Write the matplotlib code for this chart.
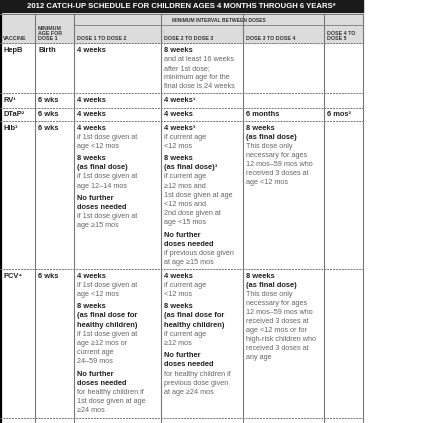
import matplotlib.pyplot as plt
import matplotlib.patches as patches

plt.rcParams['font.family'] = ['Liberation Sans Narrow', 'Liberation Sans', 'DejaVu Sans']

title = "2012 CATCH-UP SCHEDULE FOR CHILDREN AGES 4 MONTHS THROUGH 6 YEARS*"
col_x = [0, 35, 74, 161, 243, 324, 363]
row_y = [43, 93, 108, 121, 269, 418]
headers = ["VACCINE", "MINIMUM\nAGE FOR\nDOSE 1", "DOSE 1 TO DOSE 2",
           "DOSE 2 TO DOSE 3", "DOSE 3 TO DOSE 4", "DOSE 4 TO\nDOSE 5"]

# each cell: list of blocks (bold, lines)
B, N = True, False
cells = [
    [[(B, ["HepB"])], [(B, ["Birth"])], [(B, ["4 weeks"])],
     [(B, ["8 weeks"]), (N, ["and at least 16 weeks", "after 1st dose;",
                             "minimum age for the", "final dose is 24 weeks"])], [], []],
    [[(B, ["RV¹"])], [(B, ["6 wks"])], [(B, ["4 weeks"])], [(B, ["4 weeks¹"])], [], []],
    [[(B, ["DTaP²"])], [(B, ["6 wks"])], [(B, ["4 weeks"])], [(B, ["4 weeks"])],
     [(B, ["6 months"])], [(B, ["6 mos²"])]],
    [[(B, ["Hib³"])], [(B, ["6 wks"])],
     [(B, ["4 weeks"]), (N, ["if 1st dose given at", "age <12 mos"]), None,
      (B, ["8 weeks", "(as final dose)"]), (N, ["if 1st dose given at", "age 12–14 mos"]), None,
      (B, ["No further", "doses needed"]), (N, ["if 1st dose given at", "age ≥15 mos"])],
     [(B, ["4 weeks³"]), (N, ["if current age", "<12 mos"]), None,
      (B, ["8 weeks", "(as final dose)³"]),
      (N, ["if current age", "≥12 mos and", "1st dose given at age", "<12 mos and",
           "2nd dose given at", "age <15 mos"]), None,
      (B, ["No further", "doses needed"]), (N, ["if previous dose given", "at age ≥15 mos"])],
     [(B, ["8 weeks", "(as final dose)"]),
      (N, ["This dose only", "necessary for ages", "12 mos–59 mos who",
           "received 3 doses at", "age <12 mos"])], []],
    [[(B, ["PCV⁴"])], [(B, ["6 wks"])],
     [(B, ["4 weeks"]), (N, ["if 1st dose given at", "age <12 mos"]), None,
      (B, ["8 weeks", "(as final dose for", "healthy children)"]),
      (N, ["if 1st dose given at", "age ≥12 mos or", "current age", "24–59 mos"]), None,
      (B, ["No further", "doses needed"]),
      (N, ["for healthy children if", "1st dose given at age", "≥24 mos"])],
     [(B, ["4 weeks"]), (N, ["if current age", "<12 mos"]), None,
      (B, ["8 weeks", "(as final dose for", "healthy children)"]),
      (N, ["if current age", "≥12 mos"]), None,
      (B, ["No further", "doses needed"]),
      (N, ["for healthy children if", "previous dose given", "at age ≥24 mos"])],
     [(B, ["8 weeks", "(as final dose)"]),
      (N, ["This dose only", "necessary for ages", "12 mos–59 mos who",
           "received 3 doses at", "age <12 mos or for", "high-risk children who",
           "received 3 doses at", "any age"])], []],
]

fig = plt.figure(figsize=(4.36, 4.23), dpi=100)
ax = fig.add_axes([0, 0, 1, 1])
ax.set_xlim(0, 436)
ax.set_ylim(423, 0)
ax.axis("off")

# title bar
ax.add_patch(patches.Rectangle((0, 0), 363, 12, color="#1a1a1a"))
ax.text(181, 6.5, title, color="white", fontsize=5.6, fontweight="bold",
        ha="center", va="center")
# header
ax.add_patch(patches.Rectangle((0, 14), 363, 29, color="#dcdcdc"))
ax.text((col_x[2] + col_x[6]) / 2, 20, "MINIMUM INTERVAL BETWEEN DOSES",
        fontsize=3.6, fontweight="bold", color="#333", ha="center", va="center")
ax.plot([col_x[2], col_x[6]], [25.5, 25.5], color="#888", lw=0.7)
for i, h in enumerate(headers):
    ax.text(col_x[i] + 3, 41, h, fontsize=3.8, fontweight="bold", color="#333",
            ha="left", va="bottom", linespacing=0.95)

# grid lines
ax.plot([0.8, 0.8], [14, 423], color="black", lw=1.6)
for x in col_x[1:]:
    ax.plot([x, x], [14, 423], color="#777", lw=0.8)
for y in row_y:
    ax.plot([0, 363], [y, y], color="#777", lw=0.7, ls=(0, (2, 1)))
ax.plot([0, 363], [14, 14], color="#777", lw=0.7)

# cell text
line_h = 9.1
for r, row in enumerate(cells):
    for c, blocks in enumerate(row):
        y = row_y[r] + 7
        for blk in blocks:
            if blk is None:
                y += 3.5
                continue
            bold, lines = blk
            for ln in lines:
                ax.text(col_x[c] + 3, y, ln, fontsize=5.4 if bold else 5.2,
                        fontweight="bold" if bold else "normal",
                        color="#222" if bold else "#666", ha="left", va="center")
                y += line_h

fig.savefig("out.png", dpi=100)
